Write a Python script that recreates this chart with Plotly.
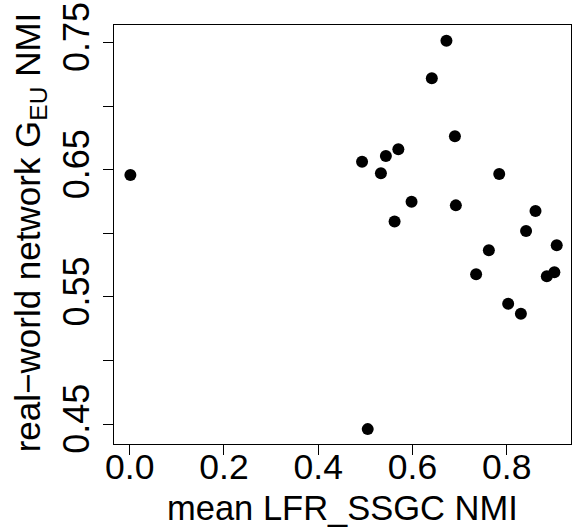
import plotly.graph_objects as go

# data
x_vals = [0.672, 0.641, 0.690, 0.570, 0.5435, 0.493, 0.533, 0.784, 0.598, 0.692,
          0.861, 0.562, 0.841, 0.906, 0.762, 0.735, 0.901, 0.885, 0.803, 0.830,
          0.0015, 0.505]
y_vals = [0.7513, 0.7218, 0.6762, 0.6660, 0.6607, 0.6562, 0.6471, 0.6465, 0.6248, 0.6219,
          0.6175, 0.6093, 0.6017, 0.5905, 0.5866, 0.5677, 0.5693, 0.5661, 0.5446, 0.5367,
          0.6458, 0.4460]

x_ticks = [0.0, 0.2, 0.4, 0.6, 0.8]
x_tick_labels = ["0.0", "0.2", "0.4", "0.6", "0.8"]
y_ticks = [0.45, 0.50, 0.55, 0.60, 0.65, 0.70, 0.75]
y_tick_labels = ["0.45", "", "0.55", "", "0.65", "", "0.75"]

FONT = "Liberation Sans, Arial, sans-serif"

fig = go.Figure()
fig.add_trace(go.Scatter(
    x=x_vals, y=y_vals, mode="markers",
    marker=dict(color="black", size=12, line=dict(width=0)),
    showlegend=False, cliponaxis=False,
))

fig.update_layout(
    width=574, height=529,
    margin=dict(l=114, r=3, t=25, b=85, autoexpand=False),
    paper_bgcolor="white", plot_bgcolor="white",
    font=dict(family=FONT, size=36, color="black"),
)
fig.update_xaxes(
    range=[-0.0333, 0.9363], automargin=False,
    tickvals=x_ticks, ticktext=x_tick_labels,
    ticks="outside", ticklen=10, tickwidth=1, tickcolor="black",
    showline=True, linecolor="black", linewidth=1, mirror=True,
    showgrid=False, zeroline=False,
    tickfont=dict(size=35.5), ticklabelstandoff=-19,
)
fig.update_yaxes(
    range=[0.4343, 0.7637], automargin=False,
    tickvals=y_ticks, ticktext=y_tick_labels,
    ticks="outside", ticklen=10, tickwidth=1, tickcolor="black",
    showline=True, linecolor="black", linewidth=1, mirror=True,
    showgrid=False, zeroline=False,
    tickangle=-90,
    tickfont=dict(size=36),
)
fig.add_annotation(
    text="mean LFR_SSGC NMI", xref="paper", yref="paper",
    x=0.5, y=-0.1527, xanchor="center", yanchor="middle",
    showarrow=False, font=dict(size=34.5),
)
fig.add_annotation(
    text="real\u2212world network G<sub>EU</sub> NMI", xref="paper", yref="paper",
    x=-0.184, y=0.505, xanchor="center", yanchor="middle", textangle=-90,
    showarrow=False, font=dict(size=35),
)

fig.write_html("out.html", config={"displayModeBar": False},
               post_script="document.body.style.margin='0';")
